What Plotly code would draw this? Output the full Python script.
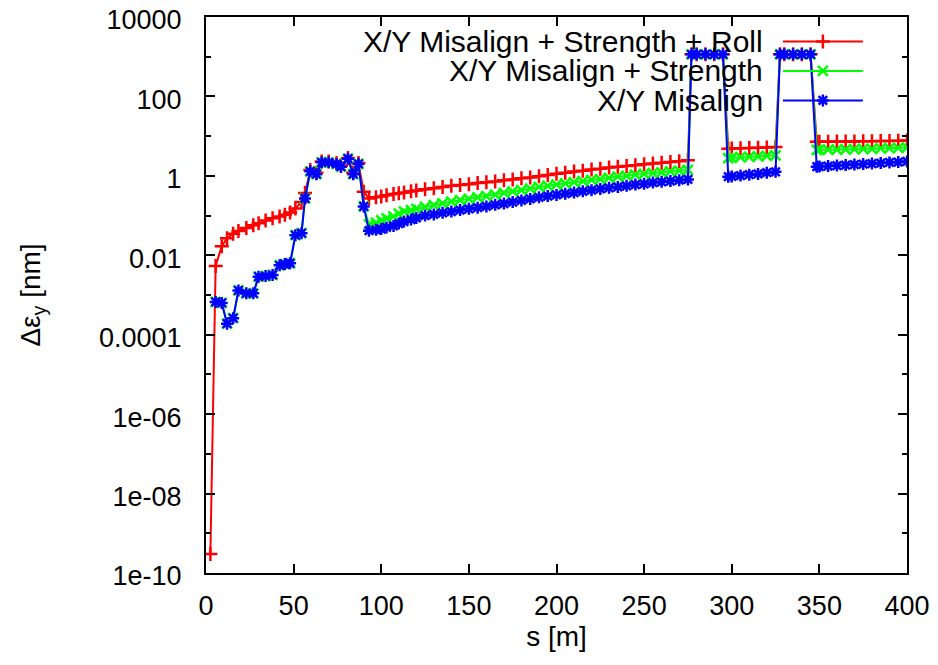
import plotly.graph_objects as go

# ---------------- data ----------------
s = [2.5, 5.5, 9, 12, 15.5, 18.5, 23, 27, 30, 34, 38, 42, 45, 48, 51, 54.5, 56.5,
     59.5, 63, 66, 70, 74.5, 77, 81, 84, 87, 90,
     93, 97, 100, 103, 107, 110, 113, 117, 120, 125, 130, 135, 140, 145, 150, 155,
     160, 165, 170, 175, 180, 185, 190, 195, 200, 205, 210, 215, 220, 225, 230, 235,
     240, 245, 250, 255, 260, 265, 270, 275,
     277, 280, 285, 290, 295,
     298, 300, 305, 310, 315, 320, 325,
     327.5, 330, 335, 340, 345,
     348.5, 350, 355, 360, 365, 370, 375, 380, 385, 390, 395, 400]

roll = [3e-10, 5.4e-3, 0.017, 0.027, 0.035, 0.041, 0.049, 0.057, 0.064, 0.075, 0.085,
        0.095, 0.105, 0.12, 0.15, 0.22, 0.37,
        1.4, 1.2, 2.3, 2.3, 2.1, 1.8, 2.8, 1.2, 2.1, 0.4,
        0.269, 0.288, 0.302, 0.324, 0.347, 0.363, 0.380, 0.407, 0.427, 0.457, 0.490,
        0.525, 0.562, 0.589, 0.617, 0.661, 0.692, 0.724, 0.776, 0.813, 0.871, 0.912,
        0.977, 1.047, 1.122, 1.202, 1.288, 1.349, 1.445, 1.514, 1.622, 1.698, 1.778,
        1.862, 1.950, 2.042, 2.138, 2.239, 2.344, 2.455,
        1150, 1150, 1150, 1150, 1150,
        4.8, 4.85, 4.95, 5.0, 5.1, 5.2, 5.3,
        1150, 1150, 1150, 1150, 1150,
        7.2, 7.2, 7.25, 7.3, 7.3, 7.35, 7.4, 7.45, 7.5, 7.6, 7.7, 7.8]

strength = [None, 6.7e-4, 6.3e-4, 1.9e-4, 2.6e-4, 1.3e-3, 1.1e-3, 1.1e-3, 2.9e-3, 3.0e-3,
            3.2e-3, 5.6e-3, 6.0e-3, 6.3e-3, 0.032, 0.036, 0.27,
            1.3, 1.1, 2.2, 2.2, 2.0, 1.7, 2.7, 1.1, 2.0, 0.17,
            0.0603, 0.0661, 0.0759, 0.0851, 0.0955, 0.112, 0.126, 0.138, 0.148, 0.166,
            0.182, 0.204, 0.224, 0.245, 0.263, 0.288, 0.309, 0.339, 0.372, 0.407, 0.437,
            0.479, 0.525, 0.562, 0.603, 0.646, 0.692, 0.741, 0.794, 0.832, 0.891, 0.955,
            1.000, 1.072, 1.122, 1.175, 1.230, 1.288, 1.349, 1.413,
            1150, 1150, 1150, 1150, 1150,
            2.8, 2.85, 2.95, 3.0, 3.1, 3.2, 3.3,
            1150, 1150, 1150, 1150, 1150,
            4.5, 4.5, 4.55, 4.6, 4.65, 4.7, 4.75, 4.8, 4.9, 5.0, 5.1, 5.2]

misalign = [None, 6.7e-4, 6.3e-4, 1.9e-4, 2.6e-4, 1.3e-3, 1.1e-3, 1.1e-3, 2.9e-3, 3.0e-3,
            3.2e-3, 5.6e-3, 6.0e-3, 6.3e-3, 0.032, 0.036, 0.27,
            1.3, 1.1, 2.2, 2.2, 2.0, 1.7, 2.7, 1.1, 2.0, 0.17,
            0.0417, 0.0437, 0.0457, 0.0501, 0.0550, 0.0631, 0.0708, 0.0794, 0.0871, 0.100,
            0.107, 0.117, 0.126, 0.138, 0.148, 0.158, 0.170, 0.186, 0.200, 0.219, 0.240,
            0.263, 0.288, 0.309, 0.331, 0.355, 0.380, 0.407, 0.437, 0.468, 0.501, 0.525,
            0.562, 0.603, 0.631, 0.676, 0.708, 0.741, 0.776, 0.813,
            1150, 1150, 1150, 1150, 1150,
            0.95, 0.97, 1.02, 1.07, 1.12, 1.2, 1.26,
            1150, 1150, 1150, 1150, 1150,
            1.7, 1.72, 1.77, 1.82, 1.87, 1.93, 1.98, 2.04, 2.1, 2.17, 2.23, 2.3]

names = ["X/Y Misalign + Strength + Roll", "X/Y Misalign + Strength", "X/Y Misalign"]
colors = ["#ff0000", "#00ff00", "#0000ff"]
symbols = ["cross-thin", "x-thin", "asterisk"]

x_ticks = [0, 50, 100, 150, 200, 250, 300, 350, 400]
y_tickvals = [1e-10, 1e-8, 1e-6, 1e-4, 1e-2, 1, 100, 10000]
y_ticktext = ["1e-10", "1e-08", "1e-06", "0.0001", "0.01", "1", "100", "10000"]
y_minor = [1e-9, 1e-7, 1e-5, 1e-3, 1e-1, 10, 1000]

FONT = "Liberation Sans, Arial, Helvetica, sans-serif"

fig = go.Figure()
for ys, name, col, sym in zip([roll, strength, misalign], names, colors, symbols):
    fig.add_trace(go.Scatter(
        x=s, y=ys, name=name, mode="lines+markers", showlegend=False,
        line=dict(color=col, width=2),
        marker=dict(symbol=sym, size=10, color=col, line=dict(color=col, width=2.5)),
        connectgaps=False,
    ))

# key (gnuplot style: text on the left, sample on the right)
row_y = [0.956, 0.903, 0.850]
for name, col, sym, ry in zip(names, colors, symbols, row_y):
    fig.add_shape(type="line", xref="paper", yref="paper", x0=0.823, x1=0.937,
                  y0=ry, y1=ry, line=dict(color=col, width=2))
    fig.add_annotation(xref="paper", yref="paper", x=0.797, y=ry, text=name,
                       xanchor="right", yanchor="middle", showarrow=False,
                       font=dict(size=30, color="black", family=FONT))
    fig.add_trace(go.Scatter(
        x=[0.88], y=[ry], xaxis="x2", yaxis="y2", mode="markers", showlegend=False,
        hoverinfo="skip",
        marker=dict(symbol=sym, size=10, color=col, line=dict(color=col, width=2.5)),
    ))

axis_common = dict(showline=True, linecolor="black", linewidth=2, mirror="ticks",
                   ticks="inside", tickcolor="black", tickwidth=2, ticklen=9,
                   showgrid=False, zeroline=False, automargin=False,
                   ticklabeloverflow="allow",
                   tickfont=dict(size=27, color="black", family=FONT))

# the page body adds an 8 px offset, so margins are reduced accordingly
fig.update_layout(
    width=938, height=665,
    margin=dict(l=198, r=39, t=9, b=100),
    paper_bgcolor="white", plot_bgcolor="white",
    font=dict(family=FONT, color="black", size=28),
    xaxis=dict(range=[0, 400], tickmode="array", tickvals=x_ticks,
               ticklabelstandoff=8,
               title=dict(text="s [m]", font=dict(size=28), standoff=6),
               **axis_common),
    yaxis=dict(type="log", range=[-10, 4], tickmode="array", tickvals=y_tickvals,
               ticktext=y_ticktext, ticklabelstandoff=17, ticklabelshift=3,
               minor=dict(tickmode="array", tickvals=y_minor, ticklen=5, tickwidth=2,
                          tickcolor="black", ticks="inside", showgrid=False),
               title=dict(text="Δε<sub>y</sub> [nm]", font=dict(size=28), standoff=50),
               **axis_common),
    xaxis2=dict(overlaying="x", range=[0, 1], visible=False, anchor="y2"),
    yaxis2=dict(overlaying="y", range=[0, 1], visible=False, anchor="x2"),
)

fig.write_html("out.html")
